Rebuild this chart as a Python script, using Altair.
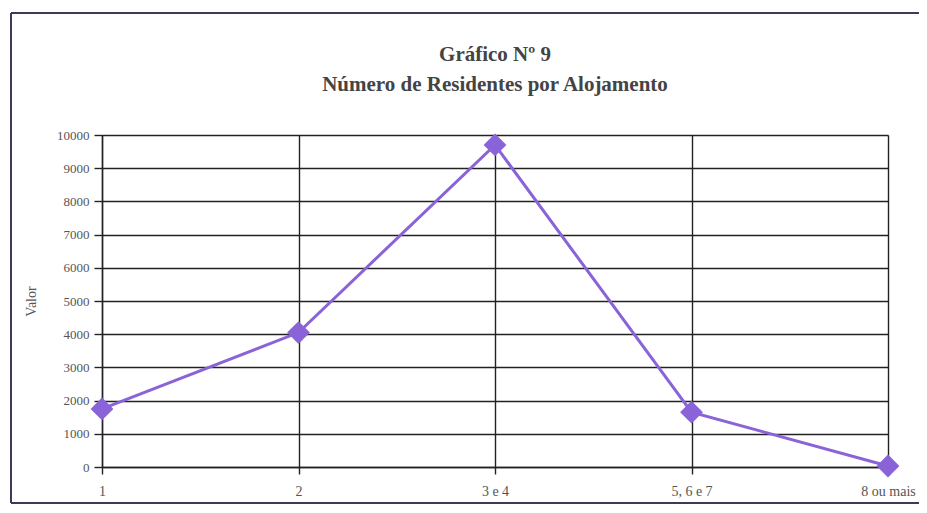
import altair as alt
import pandas as pd

categories = ["1", "2", "3 e 4", "5, 6 e 7", "8 ou mais"]
values = [1750, 4050, 9700, 1650, 30]
y_ticks = [0, 1000, 2000, 3000, 4000, 5000, 6000, 7000, 8000, 9000, 10000]

df = pd.DataFrame({"cat": categories, "valor": values})

PURPLE = "#8a63d8"
FONT = "Liberation Serif"

x_enc = alt.X("cat:N", sort=categories, title=None,
              scale=alt.Scale(type="point", padding=0),
              axis=alt.Axis(labelAngle=0, grid=True, gridColor="#222", gridWidth=1.4,
                            tickSize=7, tickColor="#222", tickWidth=1.4,
                            domain=True, domainColor="#222", domainWidth=1.4,
                            labelPadding=10, labelFont=FONT, labelFontSize=14,
                            labelColor="#555"))
y_enc = alt.Y("valor:Q", title="Valor",
              scale=alt.Scale(domain=[0, 10000], nice=False, clamp=False),
              axis=alt.Axis(values=y_ticks, format="d", grid=True, gridColor="#222",
                            gridWidth=1.4,
                            tickSize=8, tickColor="#222", tickWidth=1.4,
                            domain=True, domainColor="#222", domainWidth=1.4,
                            labelPadding=5, labelFont=FONT, labelFontSize=13,
                            labelColor="#555", titleFont=FONT, titleFontSize=14,
                            titleFontWeight="normal", titleColor="#555",
                            titlePadding=18))

base = alt.Chart(df)
line = base.mark_line(color=PURPLE, strokeWidth=3, clip=False).encode(x=x_enc, y=y_enc)
pts = base.mark_point(shape="diamond", filled=True, size=520, color=PURPLE,
                      opacity=1, clip=False).encode(x=x_enc, y=y_enc)

frame_df = pd.DataFrame({"k": [0]})
top_rule = alt.Chart(frame_df).mark_rule(color="#3a3a5a", strokeWidth=2).encode(
    x=alt.value(-91), x2=alt.value(820), y=alt.value(-122))
left_rule = alt.Chart(frame_df).mark_rule(color="#3a3a5a", strokeWidth=2).encode(
    x=alt.value(-91), y=alt.value(-122), y2=alt.value(368))
bottom_rule = alt.Chart(frame_df).mark_rule(color="#3a3a5a", strokeWidth=2).encode(
    x=alt.value(-91), x2=alt.value(820), y=alt.value(368))

chart = alt.layer(line, pts, top_rule, left_rule, bottom_rule).properties(
    width=786, height=332,
    autosize=alt.AutoSizeParams(type="none"),
    padding={"left": 94, "top": 127, "right": 31, "bottom": 38},
    title=alt.TitleParams(
        text=["Gráfico Nº 9", "Número de Residentes por Alojamento"],
        anchor="middle", frame="group", font=FONT, fontSize=21, fontWeight="bold",
        color="#444", lineHeight=30, offset=-83),
).configure_view(strokeWidth=0).configure(background="white")

chart.save("out.html", embed_options={"renderer": "svg", "actions": False})
